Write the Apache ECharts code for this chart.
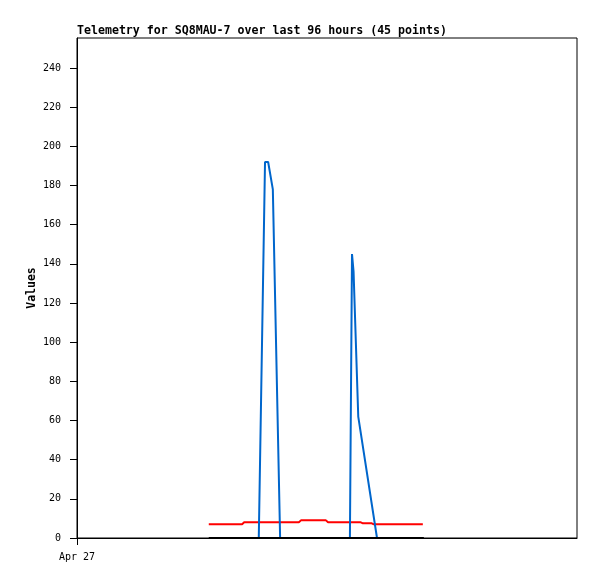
<!DOCTYPE html>
<html>
<head>
<meta charset="utf-8">
<script src="https://cdn.jsdelivr.net/npm/echarts@6/dist/echarts.min.js"></script>
<style>html,body{margin:0;padding:0;background:#fff}#c{width:597px;height:579px}</style>
</head>
<body>
<div id="c"></div>
<script>
// hours since Apr 27 00:00
const redHours = [25.3, 31.7, 32.1, 42.6, 43.0, 47.8, 48.2, 54.5, 54.9, 56.6, 57.0, 66.4];
const redValues = [7, 7, 8, 8, 9, 9, 8, 8, 7.5, 7.5, 7, 7];
const blueHours = [34.9, 36.1, 36.7, 37.6, 39.0, 52.4, 52.8, 53.1, 54.0, 57.6];
const blueValues = [0, 192, 192, 178, 0, 0, 145, 136, 62, 0];
const blackHours = [25.3, 66.6];
const blackValues = [0, 0];
const yTicks = [0, 20, 40, 60, 80, 100, 120, 140, 160, 180, 200, 220, 240];
const xTickHours = [0];
const xTickLabels = ['Apr 27'];
const titleText = 'Telemetry for SQ8MAU-7 over last 96 hours (45 points)';

const pairs = (xs, ys) => xs.map((x, i) => [x, ys[i]]);
const font = 'DejaVu Sans Mono';
const chart = echarts.init(document.getElementById('c'), null, {renderer: 'canvas'});
chart.setOption({
  animation: false,
  backgroundColor: '#fff',
  title: {
    text: titleText, left: 72, top: 20,
    textStyle: {fontFamily: font, fontWeight: 'bold', fontSize: 11.6, color: '#000'}
  },
  grid: {left: 77, top: 38, right: 20, bottom: 41, show: true, borderColor: '#000', borderWidth: 1, backgroundColor: 'transparent'},
  xAxis: {
    type: 'value', min: 0, max: 96,
    axisLine: {show: true, lineStyle: {color: '#000', width: 1}},
    axisTick: {show: true, length: 7, lineStyle: {color: '#000'}, customValues: xTickHours},
    axisLabel: {customValues: xTickHours, fontFamily: font, fontSize: 10, color: '#000', margin: 14,
      formatter: v => { const i = xTickHours.indexOf(v); return i >= 0 ? xTickLabels[i] : ''; }},
    splitLine: {show: false}
  },
  yAxis: {
    type: 'value', min: 0, max: 255.3, interval: 20,
    name: 'Values', nameLocation: 'middle', nameRotate: 90, nameGap: 39, nameMoveOverlap: false,
    nameTextStyle: {fontFamily: font, fontWeight: 'bold', fontSize: 11.5, color: '#000'},
    axisLine: {show: true, lineStyle: {color: '#000', width: 1}},
    axisTick: {show: true, length: 7, lineStyle: {color: '#000'}, customValues: yTicks},
    axisLabel: {customValues: yTicks, fontFamily: font, fontSize: 10, color: '#000', margin: 16},
    splitLine: {show: false}
  },
  series: [
    {type: 'line', data: pairs(redHours, redValues), showSymbol: false, lineStyle: {color: '#ff0000', width: 2}, itemStyle: {color: '#ff0000'}},
    {type: 'line', data: pairs(blueHours, blueValues), showSymbol: false, lineStyle: {color: '#0066cc', width: 2}, itemStyle: {color: '#0066cc'}},
    {type: 'line', data: pairs(blackHours, blackValues), showSymbol: false, lineStyle: {color: '#000000', width: 2}, itemStyle: {color: '#000'}}
  ]
});
</script>
</body>
</html>
